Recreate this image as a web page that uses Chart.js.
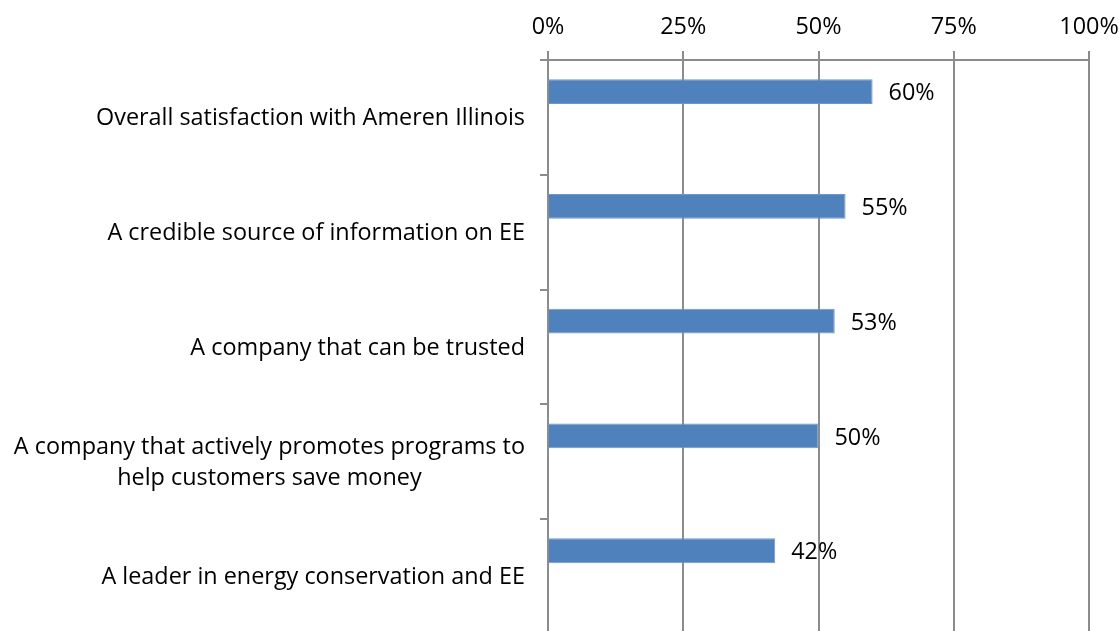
<!DOCTYPE html>
<html>
<head>
<meta charset="utf-8">
<script src="https://cdn.jsdelivr.net/npm/chart.js@4.4.1/dist/chart.umd.min.js"></script>
<style>
  html, body { margin: 0; padding: 0; background: #fff; overflow: hidden; }
  #wrap { width: 1119px; height: 634px; position: relative; }
</style>
</head>
<body>
<div id="wrap"><canvas id="chart1"></canvas></div>
<script>
const categories = [
  ["Overall satisfaction with Ameren Illinois"],
  ["A credible source of information on EE"],
  ["A company that can be trusted"],
  ["A company that actively promotes programs to", "help customers save money"],
  ["A leader in energy conservation and EE"],
];
const values = [60, 55, 53, 50, 42];
const tickValues = [0, 25, 50, 75, 100];

const FONT = "'Open Sans', sans-serif";
const FONT_SIZE = 23.4;
const GRID = "#8c8c8c";

// draws the category labels (block right aligned, lines centred) and the value labels
const labelPlugin = {
  id: "labels",
  afterDraw(chart) {
    const c = chart.ctx;
    const y = chart.scales.y;
    const x = chart.scales.x;
    c.save();
    c.font = FONT_SIZE + "px " + FONT;
    c.fillStyle = "#000";
    c.textBaseline = "middle";
    const lineH = 31;
    categories.forEach((lines, i) => {
      const cy = y.getPixelForValue(i);
      const w = Math.max(...lines.map((l) => c.measureText(l).width));
      const cx = 525 - w / 2;
      c.textAlign = "center";
      lines.forEach((l, j) => {
        c.fillText(l, cx, cy + 1 + (j - (lines.length - 1) / 2) * lineH);
      });
    });
    const meta = chart.getDatasetMeta(0);
    c.textAlign = "left";
    meta.data.forEach((bar, i) => {
      c.fillText(values[i] + "%", x.getPixelForValue(values[i]) + 16, bar.y + 2);
    });
    c.restore();
  },
};

document.addEventListener("DOMContentLoaded", (event) => {
  const ctx1 = document.getElementById("chart1").getContext("2d");
  const chart1 = new Chart(ctx1, {
    type: "bar",
    data: {
      labels: categories,
      datasets: [
        {
          label: "Percent",
          data: values,
          backgroundColor: "#4f81bd",
          borderColor: "#6f97c9",
          borderWidth: 1,
          barPercentage: 0.48,
          categoryPercentage: 0.9,
        },
        {
          label: "",
          data: categories.map(() => null),
          backgroundColor: "#4f81bd",
          barPercentage: 0.48,
          categoryPercentage: 0.9,
        },
      ],
    },
    options: {
      indexAxis: "y",
      responsive: true,
      maintainAspectRatio: false,
      animation: false,
      layout: { padding: { left: 0, right: 30, top: 0, bottom: 0 } },
      plugins: {
        legend: { display: false },
        tooltip: { enabled: false },
      },
      scales: {
        x: {
          position: "top",
          min: 0,
          max: 100,
          afterBuildTicks: (scale) => {
            scale.ticks = tickValues.map((v) => ({ value: v }));
          },
          afterFit: (scale) => {
            scale.height = 60;
            scale.paddingLeft = 0;
            scale.paddingRight = 0;
          },
          ticks: {
            callback: (v) => v + "%",
            font: { family: FONT, size: FONT_SIZE },
            color: "#000",
            padding: 10,
            maxRotation: 0,
          },
          grid: {
            color: GRID,
            lineWidth: 2,
            tickLength: 9,
          },
          border: { color: GRID, width: 2 },
        },
        y: {
          afterFit: (scale) => {
            scale.width = 548;
          },
          ticks: { display: false },
          grid: {
            color: GRID,
            lineWidth: 2,
            drawOnChartArea: false,
            tickLength: 8,
          },
          border: { color: GRID, width: 2 },
        },
      },
    },
    plugins: [labelPlugin],
  });
});
</script>
</body>
</html>
